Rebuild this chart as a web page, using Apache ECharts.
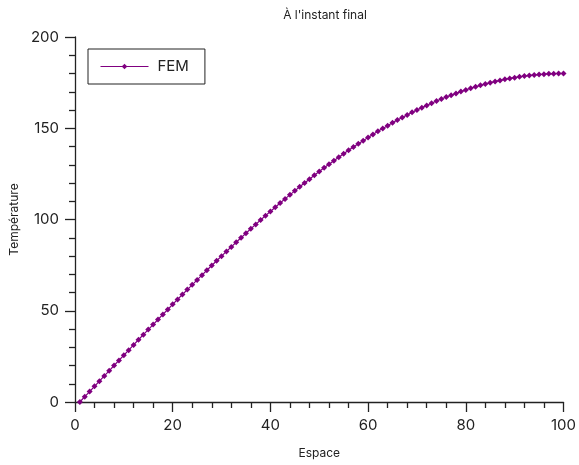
<!DOCTYPE html>
<html><head><meta charset="utf-8">
<script src="https://cdn.jsdelivr.net/npm/echarts@6/dist/echarts.min.js"></script>
<style>html,body{margin:0;padding:0;background:#fff}#c{width:579px;height:465px}</style>
</head><body><div id="c"></div>
<script>
const titleText = "À l'instant final";
const xName = "Espace";
const yName = "Température";
const seriesName = "FEM";
const espace = [];
for (let i = 1; i <= 100; i++) espace.push(i);
const temperature = [
0.0,2.9,5.7,8.6,11.4,14.3,17.1,20.0,22.8,25.6,
28.4,31.3,34.1,36.9,39.7,42.4,45.2,48.0,50.7,53.5,
56.2,58.9,61.6,64.2,66.9,69.5,72.2,74.8,77.4,79.9,
82.5,85.0,87.5,90.0,92.5,94.9,97.3,99.7,102.1,104.4,
106.7,109.0,111.3,113.5,115.7,117.9,120.0,122.1,124.2,126.3,
128.3,130.3,132.2,134.1,136.0,137.9,139.7,141.5,143.2,145.0,
146.6,148.3,149.9,151.4,153.0,154.5,155.9,157.3,158.7,160.0,
161.3,162.5,163.7,164.9,166.0,167.1,168.1,169.1,170.1,171.0,
171.9,172.7,173.5,174.2,174.9,175.6,176.2,176.8,177.3,177.7,
178.2,178.6,178.9,179.2,179.4,179.6,179.8,179.9,180.0,180.0
];
const xTicks = [0, 20, 40, 60, 80, 100];
const yTicks = [0, 50, 100, 150, 200];

const font = 'Inter, "Noto Sans", sans-serif';
const chart = echarts.init(document.getElementById('c'), null, {renderer: 'canvas'});
chart.setOption({
  animation: false,
  title: {text: titleText, left: 320, top: 4, textAlign: 'center',
    textStyle: {fontSize: 12, fontWeight: 'normal', color: '#222', fontFamily: font}},
  grid: {left: 74, right: 15, top: 37, bottom: 63, containLabel: false},
  legend: {
    left: 88, top: 49, orient: 'vertical',
    padding: [10, 16, 10, 12],
    borderColor: '#222', borderWidth: 1,
    itemWidth: 48, itemHeight: 7, itemGap: 8,
    lineStyle: {width: 1},
    textStyle: {fontSize: 15, color: '#222', fontFamily: font, padding: [0, 0, 0, 4]},
    data: [{name: seriesName}]
  },
  xAxis: {
    type: 'value', min: 0, max: 100, interval: 20,
    name: xName, nameLocation: 'middle', nameGap: 45,
    nameTextStyle: {fontSize: 12, color: '#222', fontFamily: font},
    axisLine: {onZero: false, lineStyle: {color: '#222', width: 1.3}},
    axisTick: {show: true, length: 10, lineStyle: {color: '#222', width: 1.3}},
    minorTick: {show: true, splitNumber: 5, length: 6, lineStyle: {color: '#222', width: 1.3}},
    splitLine: {show: false},
    axisLabel: {fontSize: 15, color: '#222', fontFamily: font, margin: 16,
      formatter: v => xTicks.includes(v) ? String(v) : ''}
  },
  yAxis: {
    type: 'value', min: 0, max: 200, interval: 50,
    name: yName, nameLocation: 'middle', nameGap: 49, nameRotate: 90,
    nameTextStyle: {fontSize: 12, color: '#222', fontFamily: font},
    axisLine: {show: true, onZero: false, lineStyle: {color: '#222', width: 1.3}},
    axisTick: {show: true, length: 10, lineStyle: {color: '#222', width: 1.3}},
    minorTick: {show: true, splitNumber: 5, length: 6, lineStyle: {color: '#222', width: 1.3}},
    splitLine: {show: false},
    axisLabel: {fontSize: 15, color: '#222', fontFamily: font, margin: 16,
      formatter: v => yTicks.includes(v) ? String(v) : ''}
  },
  series: [{
    name: seriesName, type: 'line',
    data: espace.map((x, i) => [x, temperature[i]]),
    symbol: 'diamond', symbolSize: 6, showSymbol: true,
    itemStyle: {color: '#800080'},
    lineStyle: {color: '#800080', width: 1.2}
  }]
});
</script></body></html>
